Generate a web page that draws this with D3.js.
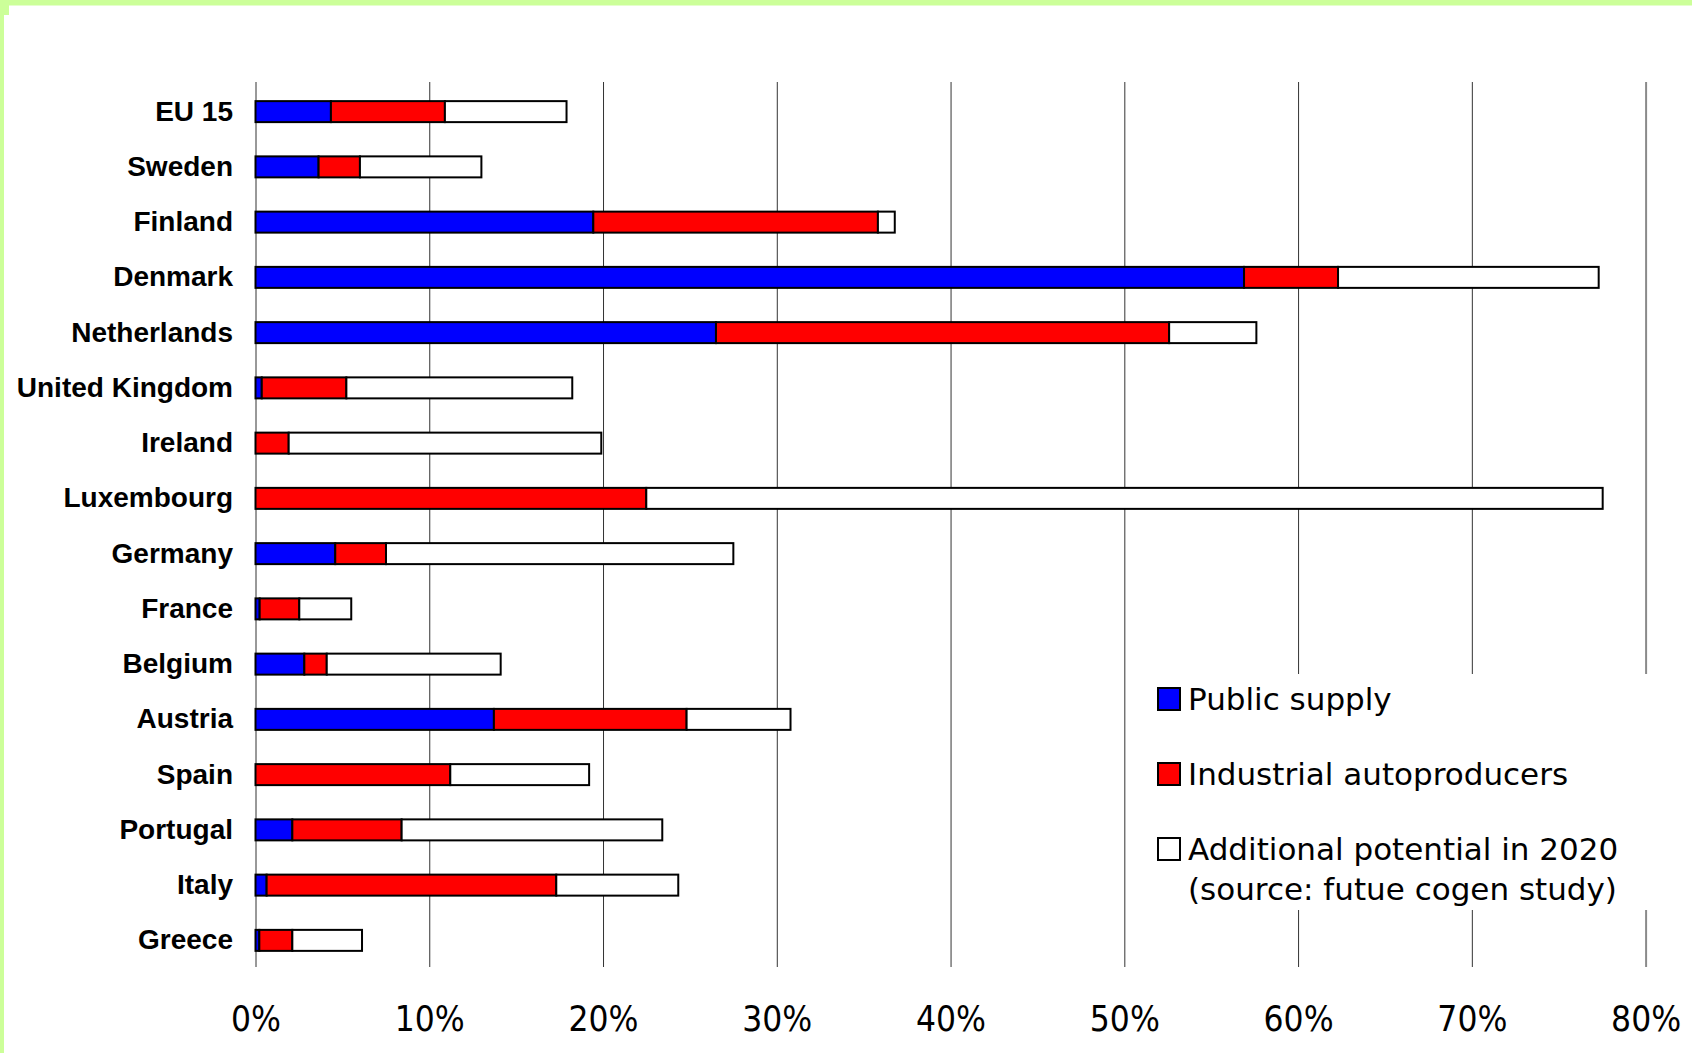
<!DOCTYPE html>
<html>
<head>
<meta charset="utf-8">
<script src="https://cdn.jsdelivr.net/npm/d3@7"></script>
<style>
  html, body { margin: 0; padding: 0; background: #fff; }
  svg { display: block; }
</style>
</head>
<body>
<svg id="chart" width="1692" height="1053"></svg>
<script>
// Countries, top to bottom
const countries = ["EU 15", "Sweden", "Finland", "Denmark", "Netherlands", "United Kingdom",
  "Ireland", "Luxembourg", "Germany", "France", "Belgium", "Austria", "Spain",
  "Portugal", "Italy", "Greece"];

// CHP share of electricity generation, % (segment widths)
const publicSupply = [4.34, 3.63, 19.44, 56.89, 26.5, 0.36, 0, 0, 4.59, 0.24, 2.81, 13.72, 0, 2.12, 0.64, 0.22];
const industrialAutoproducers = [6.56, 2.38, 16.38, 5.41, 26.08, 4.87, 1.91, 22.49, 2.92, 2.28, 1.29, 11.09, 11.21, 6.29, 16.67, 1.9];
const additionalPotential = [7.0, 6.99, 0.97, 15.0, 5.02, 13.0, 17.99, 55.04, 19.99, 2.99, 10.01, 5.98, 7.99, 15.0, 7.02, 4.01];

const seriesKeys = ["public", "industrial", "additional"];
const seriesColors = ["#0000ff", "#ff0000", "#ffffff"];
const legendLines = [
  ["Public supply"],
  ["Industrial autoproducers"],
  ["Additional potential in 2020", "(source: futue cogen study)"]
];
const tickValues = [0, 10, 20, 30, 40, 50, 60, 70, 80];

const rows = countries.map((c, i) => ({
  country: c,
  public: publicSupply[i],
  industrial: industrialAutoproducers[i],
  additional: additionalPotential[i]
}));

const svg = d3.select("#chart");

// light green frame along the top and left edges
const frame = svg.append("g").attr("fill", "#ccff99");
frame.append("rect").attr("x", 0).attr("y", 0).attr("width", 1692).attr("height", 5.5);
frame.append("rect").attr("x", 0).attr("y", 0).attr("width", 4).attr("height", 1053);
frame.append("rect").attr("x", 0).attr("y", 0).attr("width", 9).attr("height", 15);

const plotLeft = 255.5, plotRight = 1645.6, plotTop = 82, plotBottom = 967;

const x = d3.scaleLinear().domain([0, 80]).range([plotLeft, plotRight]);
const y = d3.scaleBand().domain(countries).range([84, 968]).paddingInner(0.62).paddingOuter(0.31);

// vertical gridlines + percentage labels
const axis = svg.append("g")
  .attr("transform", `translate(0,${plotBottom})`)
  .call(d3.axisBottom(x)
    .tickValues(tickValues)
    .tickSize(-(plotBottom - plotTop))
    .tickPadding(39)
    .tickFormat(d => d + "%"));
axis.select(".domain").remove();
axis.selectAll(".tick line")
  .attr("stroke", d => d === 80 ? "#8a8a8a" : "#333")
  .attr("stroke-width", d => d === 80 ? 2 : 1);
axis.selectAll(".tick text")
  .attr("fill", "#000")
  .style("font-family", "'Liberation Sans Narrow', 'DejaVu Sans Condensed', sans-serif")
  .style("font-stretch", "condensed")
  .style("font-size", "35px");

// stacked bars
const stacked = d3.stack().keys(seriesKeys)(rows);
const color = d3.scaleOrdinal().domain(seriesKeys).range(seriesColors);

svg.append("g")
  .selectAll("g")
  .data(stacked)
  .join("g")
  .attr("fill", d => color(d.key))
  .selectAll("rect")
  .data(d => d.filter(s => s[1] - s[0] > 0))
  .join("rect")
  .attr("x", d => x(d[0]))
  .attr("y", d => y(d.data.country))
  .attr("width", d => x(d[1]) - x(d[0]))
  .attr("height", y.bandwidth())
  .attr("stroke", "#000")
  .attr("stroke-width", 2);

// country labels
svg.append("g")
  .selectAll("text")
  .data(countries)
  .join("text")
  .attr("x", 233)
  .attr("y", d => y(d) + y.bandwidth() / 2)
  .attr("dy", "0.32em")
  .attr("text-anchor", "end")
  .style("font-family", "'Liberation Sans', Arial, sans-serif")
  .style("font-weight", "bold")
  .style("font-size", "28px")
  .text(d => d);

// legend on a white panel
const legend = svg.append("g");
legend.append("rect")
  .attr("x", 1128).attr("y", 674)
  .attr("width", 530).attr("height", 236)
  .attr("fill", "#fff");

const legendY = d3.scalePoint().domain(seriesKeys).range([699, 849]);
const items = legend.selectAll("g.item")
  .data(seriesKeys)
  .join("g")
  .attr("class", "item")
  .attr("transform", d => `translate(1158,${legendY(d)})`);

items.append("rect")
  .attr("x", 0).attr("y", -11)
  .attr("width", 22).attr("height", 22)
  .attr("fill", d => color(d))
  .attr("stroke", "#000")
  .attr("stroke-width", 2);

items.each(function(d, i) {
  const t = d3.select(this).append("text")
    .attr("x", 30)
    .attr("y", 0)
    .style("font-family", "'DejaVu Sans', sans-serif")
    .style("font-size", "31px")
    .attr("fill", "#000");
  legendLines[i].forEach((line, j) => {
    t.append("tspan")
      .attr("x", 30)
      .attr("y", j * 40)
      .attr("dy", "0.36em")
      .text(line);
  });
});
</script>
</body>
</html>
